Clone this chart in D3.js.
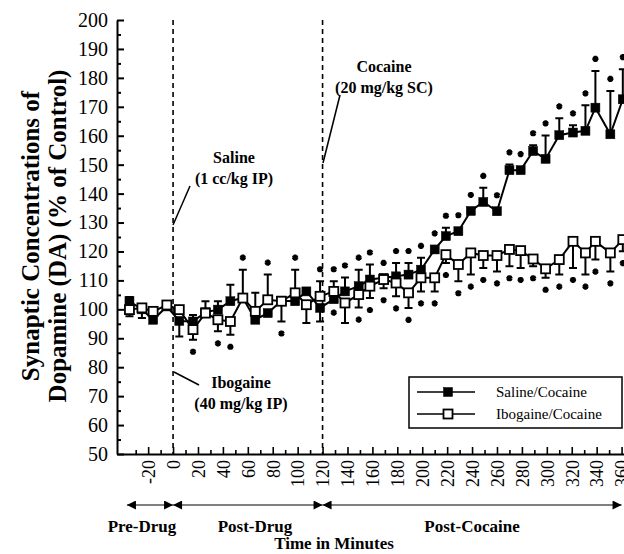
<!DOCTYPE html>
<html>
<head>
<meta charset="utf-8">
<script src="https://cdn.jsdelivr.net/npm/d3@7"></script>
<style>
body { margin: 0; background: #fff; }
text { font-family: "Liberation Serif", "Times New Roman", serif; fill: #000; }
</style>
</head>
<body>
<div id="chart"></div>
<script>
// sample times (minutes)
var times = [-35, -25, -16, -5, 5, 16, 26, 36, 46, 56, 66, 76, 87, 98, 107, 118,
	129, 138, 149, 158, 169, 179, 189, 199, 210, 219, 229, 239, 249, 260, 270, 279,
	289, 299, 310, 321, 331, 339, 351, 361];

// Saline/Cocaine (filled squares)
var saline = [102.8, 100, 96.4, 101, 96, 95.8, 99, 99.9, 102.8, 104, 96.4, 98.7, 103, 102.8, 106.2, 100.5,
	103.5, 106.2, 108, 110.3, 110.9, 111.4, 112, 113.7, 120.7, 125.3, 127, 134, 137.1, 133.9, 148.1, 148.1,
	154.7, 152, 160.2, 161.1, 161.7, 169.7, 160.5, 172.6];
// Ibogaine/Cocaine (open squares)
var ibogaine = [99.9, 100.5, 99.3, 101.5, 99.9, 93, 98.7, 96.4, 95.8, 103.9, 99.3, 103.3, 102.8, 105.7, 101.6, 104.5,
	106.2, 102.2, 105.1, 108, 110.3, 109.1, 105.7, 110.9, 110.9, 118.9, 115.5, 119.5, 118.6, 118.6, 120.7, 120.3,
	117.4, 114, 117.2, 123.5, 119.5, 123.5, 119.5, 124.1];

// error bars, signed: + drawn upward, - drawn downward
var salineErr = [1.5, 0, 0, 0, -5.4, 2.2, 0, 2.9, 5.7, 0, 0, 0, 0, 0, 0, -4.7,
	-0.5, 4.8, 5.7, 5.2, 1, 4.6, 4, 4.1, 0, 2.9, 0, 0, 4.9, 0, 2, 0,
	2, 8.1, 5.8, 2.5, 8.8, 12.7, 15, 10.4];
var ibogaineErr = [-2.3, -3.5, 0, 0, 0, -3.5, 4.1, -4, -4.6, 9.8, 6.4, 8.7, -7, 8, -6.3, 5.2,
	3.5, -6.9, -4.5, -4.1, -3, -4.6, -5.2, -4.7, -4.7, -2.9, -5.8, -7.5, -4.3, -5.5, -5.8, -6,
	-2.5, -3.1, -5.2, -9.2, -7.5, -6.3, -6.4, -4];

// significance asterisks: 1 above, -1 below, 0 none
var salineStar = [0, 0, 0, 0, 0, 0, 0, 0, 0, 0, 0, 0, 0, 0, 0, 0,
	-1, 1, 1, 1, 1, 1, 1, 1, 1, 1, 1, 1, 1, 1, 1, 1,
	1, 1, 1, 1, 1, 1, 1, 1];
var ibogaineStar = [0, 0, 0, 0, 0, -1, 0, -1, -1, 1, 0, 1, -1, 1, 0, 1,
	1, 0, -1, -1, -1, -1, -1, -1, -1, -1, -1, -1, -1, -1, -1, -1,
	-1, -1, -1, -1, -1, -1, -1, -1];

var xTickLabels = d3.range(-20, 361, 20);
var xMinorTicks = d3.range(-40, 361, 10);
var yTickLabels = d3.range(50, 201, 10);
var yMinorTicks = d3.range(55, 200, 10);

var seriesNames = ["Saline/Cocaine", "Ibogaine/Cocaine"];
var phaseNames = ["Pre-Drug", "Post-Drug", "Post-Cocaine"];
var phaseBounds = [[-37, 0], [0, 120], [120, 360]];
var injectionTimes = [0, 120];

var width = 624, height = 554;

var x = d3.scaleLinear().domain([-45, 365]).range([117, 627.8]);
var y = d3.scaleLinear().domain([50, 200]).range([454, 20]);

var svg = d3.select("#chart").append("svg")
	.attr("width", width)
	.attr("height", height)
	.style("display", "block");

// y axis
var yAxis = svg.append("g")
	.attr("transform", "translate(117,0)")
	.call(d3.axisLeft(y).tickValues(yTickLabels).tickSizeInner(-7).tickSizeOuter(0).tickPadding(9));
yAxis.select(".domain").attr("stroke-width", 2);
yAxis.selectAll(".tick line").attr("stroke-width", 2);
yAxis.selectAll("text").attr("font-family", "Liberation Serif").attr("font-size", 20);

svg.append("g")
	.attr("transform", "translate(117,0)")
	.call(d3.axisLeft(y).tickValues(yMinorTicks).tickSizeInner(-4).tickSizeOuter(0).tickFormat(""))
	.call(function (g) { g.select(".domain").remove(); })
	.selectAll("line").attr("stroke-width", 2);

// x axis
var xAxis = svg.append("g")
	.attr("transform", "translate(0,454)")
	.call(d3.axisBottom(x).tickValues(xTickLabels).tickSizeInner(-7).tickSizeOuter(0)
		.tickFormat(function (d) { return String(d); }));
xAxis.select(".domain").attr("stroke-width", 2);
xAxis.selectAll(".tick line").attr("stroke-width", 1.6);
xAxis.selectAll("text")
	.attr("font-family", "Liberation Serif")
	.attr("font-size", 18)
	.attr("transform", "rotate(-90)")
	.attr("x", -6)
	.attr("y", 0)
	.attr("dy", "0.35em")
	.style("text-anchor", "end");

svg.append("g")
	.attr("transform", "translate(0,454)")
	.call(d3.axisBottom(x).tickValues(xMinorTicks.filter(function (d) { return d % 20 != 0; }))
		.tickSizeInner(-4).tickSizeOuter(0).tickFormat(""))
	.call(function (g) { g.select(".domain").remove(); })
	.selectAll("line").attr("stroke-width", 1.6);

// injection lines
svg.selectAll(".inj")
	.data(injectionTimes)
	.enter().append("line")
	.attr("class", "inj")
	.attr("x1", function (d) { return x(d); })
	.attr("x2", function (d) { return x(d); })
	.attr("y1", y(200))
	.attr("y2", y(50))
	.attr("stroke", "#000")
	.attr("stroke-width", 1.6)
	.attr("stroke-dasharray", "5,4");

// y title
var yTitle = svg.append("text")
	.attr("transform", "translate(30,236) rotate(-90)")
	.attr("text-anchor", "middle")
	.attr("font-weight", "bold")
	.attr("font-size", 25);
yTitle.append("tspan").attr("x", 0).attr("dy", "0.35em").text("Synaptic Concentrations of");
yTitle.append("tspan").attr("x", 0).attr("dy", 27).text("Dopamine (DA) (% of Control)");

// annotations
function note(lines, cx, cy) {
	var t = svg.append("text")
		.attr("text-anchor", "middle")
		.attr("font-weight", "bold")
		.attr("font-size", 16);
	lines.forEach(function (l, i) {
		t.append("tspan").attr("x", cx).attr("y", cy + i * 21).text(l);
	});
}
note(["Saline", "(1 cc/kg IP)"], 234, 163);
note(["Cocaine", "(20 mg/kg SC)"], 384, 72);
note(["Ibogaine", "(40 mg/kg IP)"], 241, 388);

function pointer(x1, y1, x2, y2) {
	svg.append("line")
		.attr("x1", x1).attr("y1", y1).attr("x2", x2).attr("y2", y2)
		.attr("stroke", "#000").attr("stroke-width", 1.5);
}
pointer(190, 186, 173, 225);
pointer(340, 95, 323, 163);
pointer(174, 372, 199, 385);

// data
var data = times.map(function (t, i) {
	return { t: t, s: saline[i], se: salineErr[i], ss: salineStar[i],
		b: ibogaine[i], be: ibogaineErr[i], bs: ibogaineStar[i] };
});

var line = d3.line().x(function (d) { return x(d[0]); }).y(function (d) { return y(d[1]); });

function drawSeries(key, errKey, starKey, filled) {
	var g = svg.append("g");
	g.append("path")
		.datum(data.map(function (d) { return [d.t, d[key]]; }))
		.attr("d", line)
		.attr("fill", "none")
		.attr("stroke", "#000")
		.attr("stroke-width", 2);

	var bars = data.filter(function (d) { return d[errKey] != 0; });
	g.selectAll(".bar")
		.data(bars)
		.enter().append("path")
		.attr("d", function (d) {
			var cx = x(d.t), y0 = y(d[key]), y1 = y(d[key] + d[errKey]);
			return "M" + cx + "," + y0 + "V" + y1 + "M" + (cx - 4) + "," + y1 + "H" + (cx + 4);
		})
		.attr("fill", "none")
		.attr("stroke", "#000")
		.attr("stroke-width", 2);

	var star = d3.symbol().type(d3.symbolAsterisk).size(26);
	g.selectAll(".star")
		.data(data.filter(function (d) { return d[starKey] != 0; }))
		.enter().append("path")
		.attr("d", star)
		.attr("transform", function (d) {
			var dir = d[starKey], e = d[errKey], sy;
			if (e * dir > 0) sy = y(d[key] + e) - dir * 12;
			else sy = y(d[key]) - dir * 16;
			return "translate(" + x(d.t) + "," + sy + ")";
		})
		.attr("fill", "none")
		.attr("stroke", "#000")
		.attr("stroke-width", 2.6);

	g.selectAll(".sq")
		.data(data)
		.enter().append("rect")
		.attr("x", function (d) { return x(d.t) - 4.5; })
		.attr("y", function (d) { return y(d[key]) - 4.5; })
		.attr("width", 9)
		.attr("height", 9)
		.attr("fill", filled ? "#000" : "#fff")
		.attr("stroke", "#000")
		.attr("stroke-width", filled ? 0.5 : 1.8);
}
drawSeries("s", "se", "ss", true);
drawSeries("b", "be", "bs", false);

// legend
var legend = svg.append("g");
legend.append("rect")
	.attr("x", 409).attr("y", 377).attr("width", 213).attr("height", 51)
	.attr("fill", "#fff").attr("stroke", "#000").attr("stroke-width", 1.5);
seriesNames.forEach(function (name, i) {
	var ly = 392 + i * 22;
	legend.append("line").attr("x1", 417).attr("x2", 475).attr("y1", ly).attr("y2", ly)
		.attr("stroke", "#000").attr("stroke-width", 1.5);
	legend.append("rect").attr("x", 443.5).attr("y", ly - 4.5).attr("width", 9).attr("height", 9)
		.attr("fill", i == 0 ? "#000" : "#fff").attr("stroke", "#000").attr("stroke-width", i == 0 ? 0.5 : 1.8);
	legend.append("text").attr("x", 496).attr("y", ly).attr("dy", "0.35em")
		.attr("font-size", 15).text(name);
});

// phase arrows
svg.append("defs").append("marker")
	.attr("id", "head")
	.attr("viewBox", "0 0 10 10")
	.attr("refX", 10).attr("refY", 5)
	.attr("markerWidth", 11).attr("markerHeight", 9)
	.attr("markerUnits", "userSpaceOnUse")
	.attr("orient", "auto-start-reverse")
	.append("path").attr("d", "M0,0L10,5L0,10Z").attr("fill", "#000");

svg.selectAll(".phase")
	.data(phaseBounds)
	.enter().append("line")
	.attr("x1", function (d) { return x(d[0]); })
	.attr("x2", function (d) { return x(d[1]); })
	.attr("y1", 505).attr("y2", 505)
	.attr("stroke", "#000").attr("stroke-width", 1)
	.attr("marker-start", "url(#head)")
	.attr("marker-end", "url(#head)");

var phaseX = [142, 255, 472];
phaseNames.forEach(function (p, i) {
	svg.append("text").attr("x", phaseX[i]).attr("y", 532)
		.attr("text-anchor", "middle").attr("font-weight", "bold").attr("font-size", 17).text(p);
});
svg.append("text").attr("x", 334).attr("y", 549)
	.attr("text-anchor", "middle").attr("font-weight", "bold").attr("font-size", 17).text("Time in Minutes");
</script>
</body>
</html>
